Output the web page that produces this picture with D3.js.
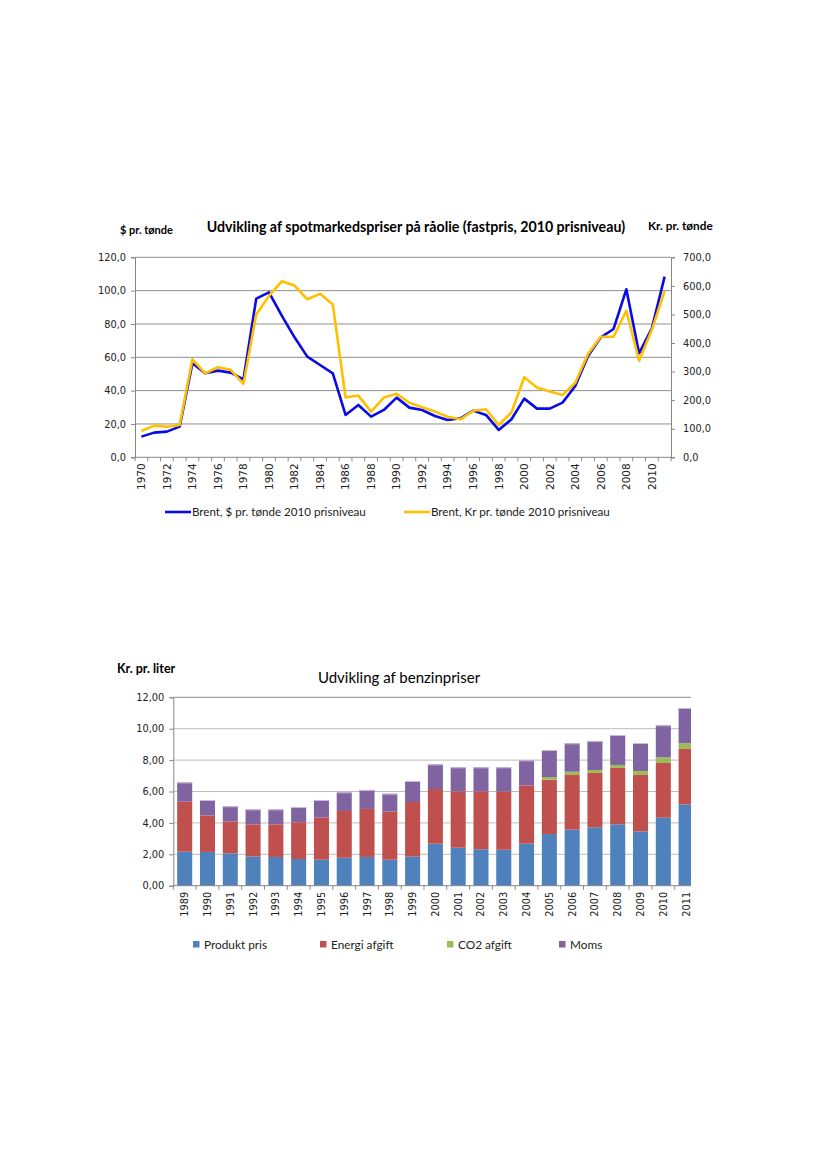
<!DOCTYPE html>
<html>
<head>
<meta charset="utf-8">
<script src="https://cdn.jsdelivr.net/npm/d3@7"></script>
<style>
  body { margin: 0; background: #fff; }
  svg { display: block; }
</style>
</head>
<body>
<script>
// ---- oil price chart data ----
var oilYears = d3.range(1970, 2012);
var brentUsd = [12.4, 14.8, 15.4, 18.4, 56.4, 50.4, 52.0, 50.8, 46.8, 95.2,
                99.0, 85.0, 72.0, 60.4, 55.4, 50.4, 25.4, 31.4, 24.4, 28.4,
                35.8, 29.8, 28.4, 24.8, 22.4, 23.4, 28.0, 25.4, 16.4, 22.8,
                35.2, 29.2, 29.2, 32.8, 42.8, 60.8, 72.0, 77.0, 100.8, 62.4,
                77.4, 108.4];
var brentKr = [92, 111, 107, 113, 343, 294, 315, 306, 257, 500,
               565, 616, 601, 553, 572, 535, 209, 216, 160, 209,
               222, 191, 175, 160, 142, 133, 163, 168, 113, 157,
               280, 244, 230, 218, 261, 362, 422, 422, 513, 338,
               446, 582];
var usdTicks = [0, 20, 40, 60, 80, 100, 120];
var krTicks = [0, 100, 200, 300, 400, 500, 600, 700];

// ---- petrol price chart data ----
var fuelYears = d3.range(1989, 2012);
var produktPris = [2.17, 2.15, 2.06, 1.87, 1.83, 1.70, 1.66, 1.78, 1.83, 1.66, 1.85,
                   2.68, 2.42, 2.32, 2.29, 2.68, 3.29, 3.57, 3.72, 3.91, 3.46, 4.33, 5.18];
var energiAfgift = [3.18, 2.33, 2.04, 2.04, 2.08, 2.34, 2.69, 2.98, 3.06, 3.06, 3.48,
                    3.48, 3.59, 3.69, 3.72, 3.71, 3.46, 3.48, 3.46, 3.59, 3.59, 3.49, 3.53];
var co2Afgift = [0, 0, 0, 0, 0, 0, 0, 0, 0, 0, 0,
                 0, 0, 0, 0, 0, 0.17, 0.21, 0.19, 0.19, 0.26, 0.36, 0.36];
var moms = [1.23, 0.98, 0.96, 0.95, 0.95, 0.97, 1.11, 1.19, 1.21, 1.14, 1.34,
            1.57, 1.53, 1.53, 1.53, 1.60, 1.72, 1.81, 1.85, 1.91, 1.78, 2.04, 2.25];
var fuelTicks = [0, 2, 4, 6, 8, 10, 12];

var tickFont = "'DejaVu Sans', Verdana, sans-serif";
var labelFont = "Lato, 'Open Sans', sans-serif";
var axisGrey = "#868686";
var fmt1 = function (v) { return d3.format(".1f")(v).replace(".", ","); };
var fmt2 = function (v) { return d3.format(".2f")(v).replace(".", ","); };

var svg = d3.select("body").append("svg")
    .attr("width", 827)
    .attr("height", 1169);

function drawOilChart() {
    var left = 135, right = 671, top = 257.3, bottom = 457.3;

    var x = d3.scaleBand().domain(oilYears).range([left, right]).padding(0);
    var yUsd = d3.scaleLinear().domain([0, 120]).range([bottom, top]);
    var yKr = d3.scaleLinear().domain([0, 700]).range([bottom, top]);

    var g = svg.append("g");

    // gridlines
    g.selectAll("line.grid")
        .data(usdTicks.slice(1))
        .enter().append("line")
        .attr("x1", left).attr("x2", right)
        .attr("y1", function (d) { return yUsd(d); })
        .attr("y2", function (d) { return yUsd(d); })
        .attr("stroke", "#8f8f8f")
        .attr("stroke-width", 1);

    // left axis
    var ax = g.append("g")
        .attr("transform", "translate(" + left + ",0)")
        .call(d3.axisLeft(yUsd).tickValues(usdTicks).tickSize(4).tickPadding(5).tickFormat(fmt1));
    ax.selectAll("text").attr("font-family", tickFont).attr("font-size", 9.8).attr("fill", "#222");

    // right axis
    var ax2 = g.append("g")
        .attr("transform", "translate(" + right + ",0)")
        .call(d3.axisRight(yKr).tickValues(krTicks).tickSize(4).tickPadding(8).tickFormat(fmt1));
    ax2.selectAll("text").attr("font-family", tickFont).attr("font-size", 9.8).attr("fill", "#222");

    // bottom axis, ticks on category boundaries
    g.append("line")
        .attr("x1", left).attr("x2", right)
        .attr("y1", bottom).attr("y2", bottom)
        .attr("stroke", axisGrey);
    g.selectAll("line.xtick")
        .data(oilYears.concat([2012]))
        .enter().append("line")
        .attr("x1", function (d) { return d === 2012 ? right : x(d); })
        .attr("x2", function (d) { return d === 2012 ? right : x(d); })
        .attr("y1", bottom).attr("y2", bottom + 4)
        .attr("stroke", axisGrey);
    g.selectAll("text.xlab")
        .data(oilYears.filter(function (d) { return d % 2 === 0; }))
        .enter().append("text")
        .attr("transform", function (d) {
            return "translate(" + (x(d) + x.bandwidth() / 2 + 3.8) + "," + (bottom + 6) + ") rotate(-90)";
        })
        .attr("text-anchor", "end")
        .attr("font-family", tickFont)
        .attr("font-size", 10.5)
        .attr("fill", "#222")
        .text(function (d) { return d; });

    g.selectAll(".domain").attr("stroke", axisGrey);
    g.selectAll(".tick line").attr("stroke", axisGrey);

    var cx = function (i) { return x(oilYears[i]) + x.bandwidth() / 2; };

    g.append("path")
        .datum(brentUsd)
        .attr("fill", "none")
        .attr("stroke", "#0A0AE6")
        .attr("stroke-width", 2.6)
        .attr("stroke-linejoin", "round")
        .attr("d", d3.line().x(function (d, i) { return cx(i); }).y(function (d) { return yUsd(d); }));

    g.append("path")
        .datum(brentKr)
        .attr("fill", "none")
        .attr("stroke", "#FFC000")
        .attr("stroke-width", 2.6)
        .attr("stroke-linejoin", "round")
        .attr("d", d3.line().x(function (d, i) { return cx(i); }).y(function (d) { return yKr(d); }));

    // titles
    svg.append("text")
        .attr("x", 416).attr("y", 232)
        .attr("text-anchor", "middle")
        .attr("font-family", labelFont).attr("font-weight", "bold").attr("font-size", 14.2)
        .text("Udvikling af spotmarkedspriser på råolie (fastpris, 2010 prisniveau)");
    svg.append("text")
        .attr("x", 120).attr("y", 234)
        .attr("font-family", labelFont).attr("font-weight", "bold").attr("font-size", 11)
        .text("$ pr. tønde");
    svg.append("text")
        .attr("x", 648).attr("y", 230)
        .attr("font-family", labelFont).attr("font-weight", "bold").attr("font-size", 11.8)
        .text("Kr. pr. tønde");

    // legend
    var leg = [
        {label: "Brent, $ pr. tønde 2010 prisniveau", color: "#0A0AE6", x: 165},
        {label: "Brent, Kr pr. tønde 2010 prisniveau", color: "#FFC000", x: 404}
    ];
    var lg = svg.selectAll("g.leg").data(leg).enter().append("g")
        .attr("transform", function (d) { return "translate(" + d.x + ",512)"; });
    lg.append("line").attr("x1", 0).attr("x2", 26).attr("y1", 0).attr("y2", 0)
        .attr("stroke", function (d) { return d.color; }).attr("stroke-width", 2.6);
    lg.append("text").attr("x", 27).attr("y", 4)
        .attr("font-family", labelFont).attr("font-size", 11.6)
        .attr("fill", "#222")
        .text(function (d) { return d.label; });
}

function drawFuelChart() {
    var left = 173.3, right = 697.5, top = 697.3, bottom = 885.7, clipRight = 691;

    var x = d3.scaleBand().domain(fuelYears).range([left, right])
        .paddingInner(0.34).paddingOuter(0.17);
    var y = d3.scaleLinear().domain([0, 12]).range([bottom, top]);
    var step = x.step();

    svg.append("clipPath").attr("id", "fuelClip")
        .append("rect").attr("x", left).attr("y", top - 5)
        .attr("width", clipRight - left).attr("height", bottom - top + 10);

    var g = svg.append("g");

    g.selectAll("line.grid")
        .data(fuelTicks.slice(1))
        .enter().append("line")
        .attr("x1", left).attr("x2", clipRight)
        .attr("y1", function (d) { return y(d); })
        .attr("y2", function (d) { return y(d); })
        .attr("stroke", function (d) { return d === 12 ? "#8a8a8a" : "#bdbdbd"; })
        .attr("stroke-width", 1);

    var series = [
        {key: "Produkt pris", values: produktPris, color: "#4F81BD"},
        {key: "Energi afgift", values: energiAfgift, color: "#C0504D"},
        {key: "CO2 afgift", values: co2Afgift, color: "#9BBB59"},
        {key: "Moms", values: moms, color: "#8064A2"}
    ];
    var rows = fuelYears.map(function (yr, i) {
        var r = {year: yr};
        series.forEach(function (s) { r[s.key] = s.values[i]; });
        return r;
    });
    var stacked = d3.stack().keys(series.map(function (s) { return s.key; }))(rows);

    var bars = g.append("g").attr("clip-path", "url(#fuelClip)");
    bars.selectAll("g.layer")
        .data(stacked)
        .enter().append("g")
        .attr("fill", function (d, i) { return series[i].color; })
        .selectAll("rect")
        .data(function (d) { return d; })
        .enter().append("rect")
        .attr("x", function (d) { return x(d.data.year); })
        .attr("width", x.bandwidth())
        .attr("y", function (d) { return y(d[1]); })
        .attr("height", function (d) { return Math.max(0, y(d[0]) - y(d[1])); });

    // light top edge on each bar
    bars.selectAll("line.cap")
        .data(rows)
        .enter().append("line")
        .attr("x1", function (d) { return x(d.year); })
        .attr("x2", function (d) { return x(d.year) + x.bandwidth(); })
        .attr("y1", function (d, i) { return y(stacked[3][i][1]) + 0.5; })
        .attr("y2", function (d, i) { return y(stacked[3][i][1]) + 0.5; })
        .attr("stroke", "#c9bddb").attr("stroke-width", 1);

    // left axis
    var ax = g.append("g")
        .attr("transform", "translate(" + left + ",0)")
        .call(d3.axisLeft(y).tickValues(fuelTicks).tickSize(4).tickPadding(5).tickFormat(fmt2));
    ax.selectAll("text").attr("font-family", tickFont).attr("font-size", 9.8).attr("fill", "#222");
    ax.selectAll(".domain").attr("stroke", axisGrey);
    ax.selectAll(".tick line").attr("stroke", axisGrey);

    // bottom axis
    g.append("line")
        .attr("x1", left).attr("x2", clipRight)
        .attr("y1", bottom).attr("y2", bottom)
        .attr("stroke", axisGrey);
    g.selectAll("line.xtick")
        .data(fuelYears)
        .enter().append("line")
        .attr("x1", function (d) { return x(d) - step * 0.17; })
        .attr("x2", function (d) { return x(d) - step * 0.17; })
        .attr("y1", bottom).attr("y2", bottom + 4)
        .attr("stroke", axisGrey);
    g.selectAll("text.xlab")
        .data(fuelYears)
        .enter().append("text")
        .attr("transform", function (d) {
            return "translate(" + (x(d) + x.bandwidth() / 2 + 3.5) + "," + (bottom + 6) + ") rotate(-90)";
        })
        .attr("text-anchor", "end")
        .attr("font-family", tickFont)
        .attr("font-size", 9.8)
        .attr("fill", "#222")
        .text(function (d) { return d; });

    svg.append("text")
        .attr("x", 399).attr("y", 683)
        .attr("text-anchor", "middle")
        .attr("font-family", labelFont).attr("font-size", 15)
        .text("Udvikling af benzinpriser");
    svg.append("text")
        .attr("x", 117).attr("y", 673)
        .attr("font-family", labelFont).attr("font-weight", "bold").attr("font-size", 12.5)
        .text("Kr. pr. liter");

    var legX = [193, 320, 447, 559];
    var lg = svg.selectAll("g.fleg").data(series).enter().append("g")
        .attr("transform", function (d, i) { return "translate(" + legX[i] + ",944)"; });
    lg.append("rect").attr("x", 0).attr("y", -3).attr("width", 6.5).attr("height", 6.5)
        .attr("fill", function (d) { return d.color; });
    lg.append("text").attr("x", 11).attr("y", 4.5)
        .attr("font-family", labelFont).attr("font-size", 11.8)
        .attr("fill", "#222")
        .text(function (d) { return d.key; });
}

drawOilChart();
drawFuelChart();
</script>
</body>
</html>
